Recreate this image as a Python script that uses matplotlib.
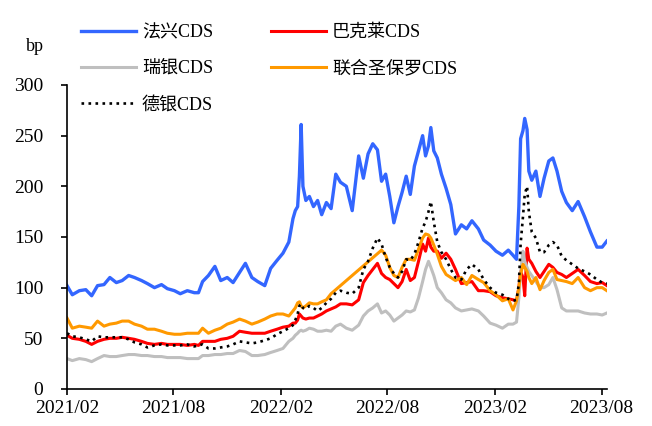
import numpy as np
import pandas as pd
import matplotlib
matplotlib.use("Agg")
import matplotlib.pyplot as plt
import matplotlib.dates as mdates

plt.rcParams['font.family'] = ['Liberation Serif', 'Noto Sans CJK SC']

# 日期(共用)
dates = pd.to_datetime([
    "2021-02-01", "2021-02-10", "2021-02-22", "2021-03-05", "2021-03-15", "2021-03-25",
    "2021-04-05", "2021-04-15", "2021-04-26", "2021-05-06", "2021-05-17", "2021-05-27",
    "2021-06-08", "2021-06-18", "2021-06-30", "2021-07-12", "2021-07-22", "2021-08-03",
    "2021-08-13", "2021-08-25", "2021-09-06", "2021-09-13", "2021-09-20", "2021-09-30",
    "2021-10-11", "2021-10-21", "2021-11-01", "2021-11-11", "2021-11-22", "2021-12-02",
    "2021-12-13", "2021-12-23",
    "2022-01-04", "2022-01-14", "2022-01-25", "2022-02-04", "2022-02-14", "2022-02-21",
    "2022-02-25", "2022-03-01", "2022-03-04", "2022-03-07", "2022-03-10", "2022-03-15",
    "2022-03-21", "2022-03-28", "2022-04-04", "2022-04-11", "2022-04-19", "2022-04-27",
    "2022-05-05", "2022-05-13", "2022-05-23", "2022-06-02", "2022-06-13", "2022-06-21",
    "2022-06-29", "2022-07-07", "2022-07-15", "2022-07-22", "2022-07-29", "2022-08-05",
    "2022-08-12", "2022-08-19", "2022-08-26", "2022-09-02", "2022-09-09", "2022-09-16",
    "2022-09-23", "2022-09-30", "2022-10-05", "2022-10-10", "2022-10-14", "2022-10-19",
    "2022-10-25", "2022-11-01", "2022-11-09", "2022-11-17", "2022-11-25", "2022-12-05",
    "2022-12-14", "2022-12-23",
    "2023-01-03", "2023-01-12", "2023-01-23", "2023-02-02", "2023-02-13", "2023-02-23",
    "2023-03-03", "2023-03-09", "2023-03-13", "2023-03-16", "2023-03-20", "2023-03-23",
    "2023-03-27", "2023-03-30", "2023-04-04", "2023-04-11", "2023-04-18", "2023-04-25",
    "2023-05-03", "2023-05-10", "2023-05-17", "2023-05-25", "2023-06-02", "2023-06-12",
    "2023-06-22", "2023-07-03", "2023-07-13", "2023-07-24", "2023-08-02", "2023-08-10",
])

# 法兴CDS
socgen = [
    102, 93, 97, 98, 92, 102, 103, 110, 105, 107, 112, 110, 107, 104, 100, 103, 99, 97,
    94, 97, 95, 95, 106, 112, 121, 107, 110, 105, 115, 124, 110, 106,
    102, 119, 127, 134, 145, 168, 176, 180, 210, 261, 200, 186, 190, 180, 186, 172,
    184, 178, 212, 204, 200, 176, 230, 208, 232, 242, 236, 205, 212, 190, 164, 180,
    194, 210, 192, 220, 235, 250, 230, 240, 258, 235, 228, 212, 198, 182, 153, 162,
    158, 166,
    158, 147, 142, 136, 132, 137, 132, 128, 180, 247, 255, 267, 256, 215, 206, 215,
    190, 208, 225, 228, 215, 195, 184, 176, 185, 170, 155, 140, 140, 146,
]

# 巴克莱CDS
barclays = [
    53, 50, 49, 47, 44, 47, 49, 50, 50, 51, 50, 49, 47, 45, 44, 45, 44, 44,
    44, 43, 44, 43, 47, 47, 47, 49, 50, 52, 57, 56, 55, 55,
    55, 57, 59, 61, 62, 65, 65, 68, 74, 72, 70, 69, 70, 70, 72, 74,
    77, 79, 81, 84, 84, 83, 88, 105, 112, 118, 124, 114, 110, 108, 104, 100,
    106, 118, 107, 110, 126, 143, 136, 149, 140, 136, 136, 129, 134, 128, 118, 104,
    105, 106,
    97, 97, 96, 92, 90, 89, 88, 87, 100, 116, 110, 92, 139, 128, 124, 116,
    110, 116, 123, 120, 115, 113, 110, 114, 118, 112, 106, 104, 105, 102,
]

# 瑞银CDS
ubs = [
    30, 28, 30, 29, 27, 30, 33, 32, 32, 33, 34, 34, 33, 33, 32, 32, 31, 31,
    31, 30, 30, 30, 33, 33, 34, 34, 35, 35, 38, 37, 33, 33,
    34, 36, 38, 40, 47, 50, 53, 55, 57, 58, 57, 58, 60, 59, 57, 57,
    58, 57, 62, 64, 60, 58, 63, 72, 77, 80, 84, 75, 77, 73, 67, 70,
    73, 77, 76, 78, 90, 106, 118, 126, 120, 112, 100, 95, 88, 85, 80, 77,
    78, 79,
    77, 72, 65, 63, 60, 64, 64, 66, 90, 115, 136, 126, 120, 116, 112, 106,
    100, 100, 103, 110, 98, 80, 77, 77, 77, 75, 74, 74, 73, 75,
]

# 联合圣保罗CDS(2022年4月至7月缺数,直线相连)
isp = [
    70, 60, 62, 61, 60, 67, 62, 64, 65, 67, 67, 64, 62, 59, 59, 57, 55, 54,
    54, 55, 55, 55, 60, 55, 58, 60, 64, 66, 69, 67, 64, 66,
    69, 72, 74, 74, 72, 77, 80, 85, 86, 82, 80, 82, 85, 84, 84, 86,
    88, 94, np.nan, np.nan, np.nan, np.nan, np.nan, np.nan, np.nan, np.nan, np.nan, 137, 132, 120, 112, 110,
    120, 128, 128, 127, 138, 149, 153, 152, 149, 142, 133, 121, 113, 110, 107, 110,
    103, 112,
    108, 105, 97, 93, 87, 89, 78, 87, 100, 113, 123, 120, 116, 110, 104, 110,
    98, 107, 115, 118, 108, 107, 106, 104, 110, 100, 97, 100, 100, 97,
]

# 德银CDS
db = [
    55, 52, 51, 49, 47, 52, 51, 51, 51, 51, 49, 46, 44, 41, 43, 44, 43, 43,
    43, 44, 42, 43, 44, 40, 40, 41, 42, 44, 47, 46, 45, 46,
    48, 50, 54, 57, 60, 63, 68, 74, 82, 84, 80, 79, 82, 80, 77, 80,
    85, 89, 95, 97, 95, 94, 100, 118, 126, 139, 149, 143, 130, 120, 114, 110,
    116, 128, 127, 133, 145, 159, 165, 175, 185, 165, 145, 135, 128, 118, 110, 108,
    118, 123,
    118, 108, 100, 95, 93, 89, 87, 88, 104, 143, 170, 192, 200, 175, 155, 149,
    135, 135, 142, 145, 142, 131, 127, 123, 119, 116, 113, 108, 105, 104,
]

fig = plt.figure(figsize=(6.52, 4.26), dpi=100)
ax = fig.add_axes([0.1028, 0.0869, 0.828, 0.7136])

series = [
    ("法兴CDS", socgen, "#3366FF", "-", 2.4),
    ("巴克莱CDS", barclays, "#FF0000", "-", 2.2),
    ("瑞银CDS", ubs, "#BFBFBF", "-", 2.2),
    ("联合圣保罗CDS", isp, "#FF9900", "-", 2.2),
    ("德银CDS", db, "black", ":", 1.9),
]
lines = {}
for name, vals, col, ls, lw in series:
    v = np.array(vals, dtype=float)
    ok = np.isfinite(v)
    ln, = ax.plot(dates[ok], v[ok], color=col, linestyle=ls, linewidth=lw, label=name)
    lines[name] = ln

ax.set_ylim(0, 300)
ax.set_yticks(np.arange(0, 301, 50))
ax.set_xlim(pd.Timestamp("2021-02-01"), pd.Timestamp("2023-08-10"))
ax.set_xticks(pd.to_datetime(["2021-02-01", "2021-08-01", "2022-02-01",
                              "2022-08-01", "2023-02-01", "2023-08-01"]))
ax.xaxis.set_major_formatter(mdates.DateFormatter("%Y/%m"))
ax.tick_params(labelsize=14, direction="out", length=4, width=1.2, color="black")
ax.tick_params(axis="y", pad=13)
ax.tick_params(axis="x", pad=4)
for s in ["top", "right"]:
    ax.spines[s].set_visible(False)
for s in ["left", "bottom"]:
    ax.spines[s].set_linewidth(1.2)

fig.text(0.054, 0.89, "bp", fontsize=13, ha="center", va="center")

order = ["法兴CDS", "瑞银CDS", "德银CDS", "巴克莱CDS", "联合圣保罗CDS"]
leg = fig.legend([lines[n] for n in order], order, ncol=2, loc="upper left",
                 bbox_to_anchor=(0.1242, 0.944), frameon=False, fontsize=13,
                 handlelength=3.05, handletextpad=0.33, columnspacing=3.2,
                 labelspacing=1.06, borderpad=0, borderaxespad=0)

fig.savefig("out.png", dpi=100)
